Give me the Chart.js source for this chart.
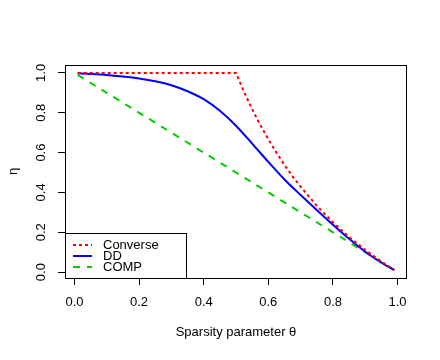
<!DOCTYPE html>
<html>
<head>
<meta charset="utf-8">
<script src="https://cdn.jsdelivr.net/npm/chart.js@4.4.0/dist/chart.umd.min.js"></script>
<style>
  html, body { margin: 0; padding: 0; background: #fff; }
  #c { display: block; }
</style>
</head>
<body>
<canvas id="c" width="440" height="360"></canvas>
<script>
// values
var convTheta = [0.01, 0.5, 0.525, 0.55, 0.575, 0.6, 0.625, 0.65, 0.675, 0.7, 0.75, 0.8, 0.85, 0.9, 0.95, 0.99];
var converse  = [1.0, 1.0, 0.905, 0.818, 0.739, 0.667, 0.6, 0.538, 0.481, 0.429, 0.333, 0.25, 0.176, 0.111, 0.053, 0.01];

var ddTheta = [0.01, 0.05, 0.1, 0.15, 0.2, 0.25, 0.3, 0.35, 0.4, 0.45, 0.5, 0.55, 0.6, 0.65, 0.7, 0.75, 0.8, 0.85, 0.9, 0.95, 0.99];
var dd      = [0.998, 0.995, 0.99, 0.982, 0.972, 0.958, 0.938, 0.908, 0.868, 0.81, 0.735, 0.645, 0.553, 0.465, 0.387, 0.312, 0.238, 0.167, 0.102, 0.047, 0.01];

var compTheta = [0.01, 0.99];
var comp      = [0.99, 0.01];

var seriesNames = ['Converse', 'DD', 'COMP'];
var xTicks = [0, 0.2, 0.4, 0.6, 0.8, 1.0];
var yTicks = [0, 0.2, 0.4, 0.6, 0.8, 1.0];
var xTitle = 'Sparsity parameter \u03b8';
var yTitle = '\u03b7';

var FONT = '13px "Liberation Sans", Arial, sans-serif';

function pts(xs, ys) {
  return xs.map(function (x, i) { return {x: x, y: ys[i]}; });
}

// R style box, tick labels, axis titles and legend
var rPlot = {
  id: 'rPlot',
  afterDraw: function (chart) {
    var ctx = chart.ctx, a = chart.chartArea;
    var sx = chart.scales.x, sy = chart.scales.y;
    ctx.save();
    ctx.strokeStyle = '#000';
    ctx.lineWidth = 1;
    ctx.strokeRect(a.left + 0.5, a.top + 0.5, a.right - a.left - 1, a.bottom - a.top);

    ctx.fillStyle = '#000';
    ctx.font = FONT;
    ctx.textAlign = 'center';
    ctx.textBaseline = 'middle';
    xTicks.forEach(function (v) {
      ctx.fillText(v.toFixed(1), sx.getPixelForValue(v), 302);
    });
    yTicks.forEach(function (v) {
      ctx.save();
      ctx.translate(41.5, sy.getPixelForValue(v));
      ctx.rotate(-Math.PI / 2);
      ctx.fillText(v.toFixed(1), 0, 0);
      ctx.restore();
    });
    ctx.fillText(xTitle, (a.left + a.right) / 2, 332);
    ctx.save();
    ctx.translate(13, (a.top + a.bottom) / 2);
    ctx.rotate(-Math.PI / 2);
    ctx.fillText(yTitle, 0, 0);
    ctx.restore();

    // legend, bottom left
    var lx = a.left + 0.5, ly = 233.5, lw = 121, lh = a.bottom - 233.5 + 0.5;
    ctx.fillStyle = '#fff';
    ctx.fillRect(lx, ly, lw, lh);
    ctx.strokeRect(lx, ly, lw, lh);
    var rows = [245, 256, 267];
    chart.data.datasets.forEach(function (ds, i) {
      ctx.strokeStyle = ds.borderColor;
      ctx.lineWidth = ds.borderWidth;
      ctx.setLineDash(ds.borderDash || []);
      ctx.beginPath();
      ctx.moveTo(73, rows[i]);
      ctx.lineTo(92, rows[i]);
      ctx.stroke();
      ctx.setLineDash([]);
      ctx.fillStyle = '#000';
      ctx.textAlign = 'left';
      ctx.fillText(ds.label, 103, rows[i]);
    });
    ctx.restore();
  }
};

var tickGrid = {
  drawOnChartArea: false,
  drawTicks: true,
  tickLength: 7,
  color: '#000',
  lineWidth: 1
};

new Chart(document.getElementById('c').getContext('2d'), {
  type: 'line',
  data: {
    datasets: [
      {label: seriesNames[0], data: pts(convTheta, converse), borderColor: '#ff0000',
       borderWidth: 2, borderDash: [3, 3], fill: false},
      {label: seriesNames[1], data: pts(ddTheta, dd), borderColor: '#0000ff',
       borderWidth: 2, cubicInterpolationMode: 'monotone', fill: false},
      {label: seriesNames[2], data: pts(compTheta, comp), borderColor: '#00cd00',
       borderWidth: 2, borderDash: [7, 7], fill: false}
    ]
  },
  options: {
    responsive: false,
    animation: false,
    layout: {padding: {top: 65, right: 33, left: 0, bottom: 0}},
    elements: {point: {radius: 0}, line: {borderCapStyle: 'butt'}},
    plugins: {legend: {display: false}, tooltip: {enabled: false}},
    scales: {
      x: {
        type: 'linear', min: -0.0292, max: 1.0292,
        afterBuildTicks: function (s) { s.ticks = xTicks.map(function (v) { return {value: v}; }); },
        afterFit: function (s) { s.height = 82; },
        grid: tickGrid,
        border: {display: false},
        ticks: {display: false}
      },
      y: {
        type: 'linear', min: -0.0296, max: 1.0396,
        afterBuildTicks: function (s) { s.ticks = yTicks.map(function (v) { return {value: v}; }); },
        afterFit: function (s) { s.width = 65; },
        grid: tickGrid,
        border: {display: false},
        ticks: {display: false}
      }
    }
  },
  plugins: [rPlot]
});
</script>
</body>
</html>
